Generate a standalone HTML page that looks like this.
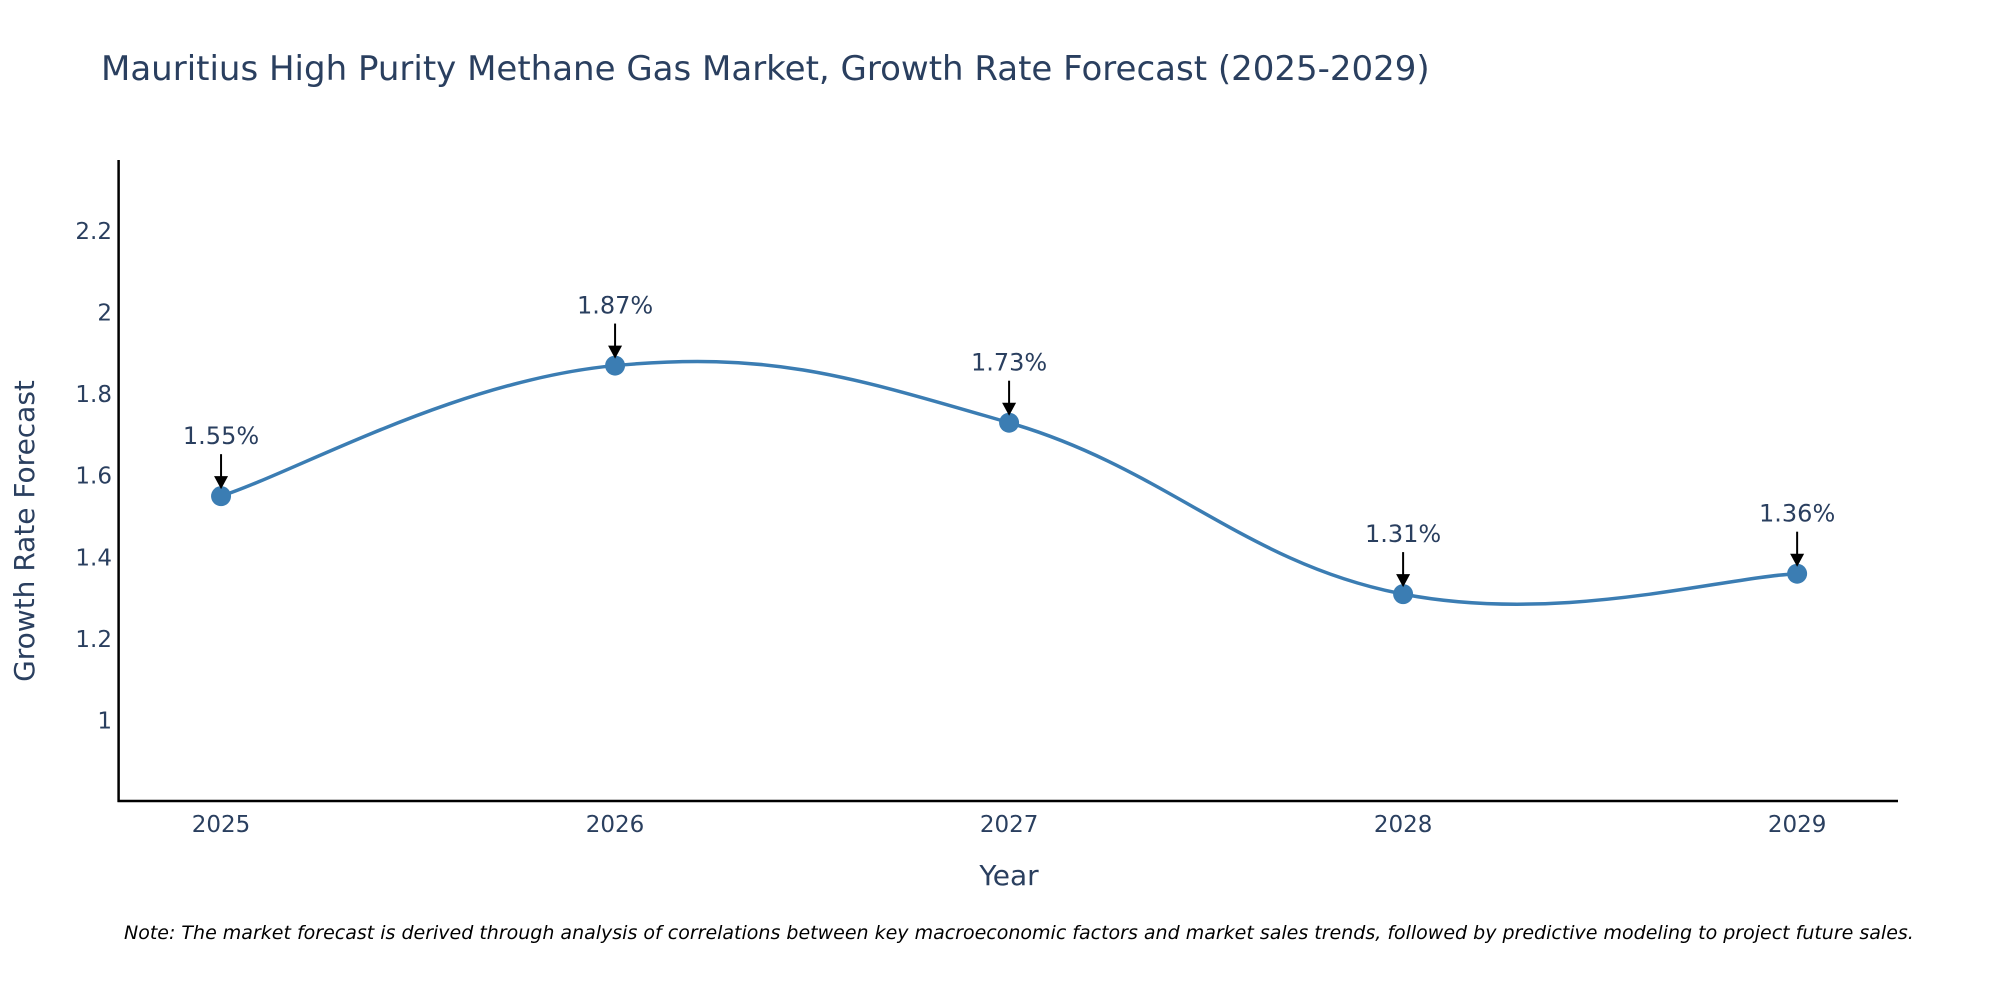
<!DOCTYPE html>
<html><head><meta charset="utf-8">
<style>
html,body{margin:0;padding:0;background:#fff;}
svg{display:block;font-family:"DejaVu Sans","Liberation Sans",sans-serif;}
</style></head>
<body>
<svg id="chart" width="2000" height="1000" viewBox="0 0 2000 1000" xmlns="http://www.w3.org/2000/svg">
<rect width="2000" height="1000" fill="#fff"/>
<text x="101" y="80" font-size="34" fill="#2a3f5f">Mauritius High Purity Methane Gas Market, Growth Rate Forecast (2025-2029)</text>
<g id="yticks"></g>
<g id="xticks"></g>
<line x1="118.6" y1="160" x2="118.6" y2="802" stroke="#000" stroke-width="2.5"/>
<line x1="117.5" y1="801" x2="1898" y2="801" stroke="#000" stroke-width="2.5"/>
<text transform="translate(34,531) rotate(-90)" text-anchor="middle" font-size="28" fill="#2a3f5f">Growth Rate Forecast</text>
<text x="1009" y="885" text-anchor="middle" font-size="28" fill="#2a3f5f">Year</text>
<g id="series"></g>
<g id="annots"></g>
<text x="124" y="939" font-size="19" font-style="italic" fill="#000">Note: The market forecast is derived through analysis of correlations between key macroeconomic factors and market sales trends, followed by predictive modeling to project future sales.</text>
</svg>
<script>
const years = [2025, 2026, 2027, 2028, 2029];
const growth = [1.55, 1.87, 1.73, 1.31, 1.36];
const labels = ["1.55%", "1.87%", "1.73%", "1.31%", "1.36%"];
const yTickValues = [1, 1.2, 1.4, 1.6, 1.8, 2, 2.2];
const yTickLabels = ["1", "1.2", "1.4", "1.6", "1.8", "2", "2.2"];

const NS = "http://www.w3.org/2000/svg";
const X0 = 118.6, X1 = 1898, Y0 = 801, Y1 = 160.7;
const xMin = 2024.74, xMax = 2029.256, yMin = 0.803, yMax = 2.372;
function xs(v){ return X0 + (v - xMin) / (xMax - xMin) * (X1 - X0); }
function ys(v){ return Y0 - (v - yMin) / (yMax - yMin) * (Y0 - Y1); }
function mk(tag, attrs, parent){ const e = document.createElementNS(NS, tag); for (const k in attrs) e.setAttribute(k, attrs[k]); parent.appendChild(e); return e; }

const yt = document.getElementById('yticks');
yTickValues.forEach((v, i) => {
  const t = mk('text', {x: 112, y: ys(v) + 8, 'text-anchor': 'end', 'font-size': 23, fill: '#2a3f5f'}, yt);
  
  
  t.textContent = yTickLabels[i];
});
const xt = document.getElementById('xticks');
years.forEach(y => {
  const t = mk('text', {x: xs(y), y: 832, 'text-anchor': 'middle', 'font-size': 23, fill: '#2a3f5f'}, xt);
  
  
  t.textContent = String(y);
});

const pts = years.map((y, i) => [xs(y), ys(growth[i])]);
let d = `M${pts[0][0]},${pts[0][1]}`;
const s = 0.2;
for (let i = 0; i < pts.length - 1; i++) {
  const p0 = pts[Math.max(i - 1, 0)], p1 = pts[i], p2 = pts[i + 1], p3 = pts[Math.min(i + 2, pts.length - 1)];
  const c1 = [p1[0] + (p2[0] - p0[0]) * s, p1[1] + (p2[1] - p0[1]) * s];
  const c2 = [p2[0] - (p3[0] - p1[0]) * s, p2[1] - (p3[1] - p1[1]) * s];
  d += ` C${c1[0]},${c1[1]} ${c2[0]},${c2[1]} ${p2[0]},${p2[1]}`;
}
const ser = document.getElementById('series');
const line = mk('path', {d: d, fill: 'none', stroke: '#3b7db3', 'stroke-width': 3.5}, ser);


pts.forEach(p => {
  const c = mk('circle', {cx: p[0], cy: p[1], r: 10, fill: '#3b7db3'}, ser);
  
  
});

const an = document.getElementById('annots');
pts.forEach((p, i) => {
  const l = mk('line', {x1: p[0], y1: p[1] - 42, x2: p[0], y2: p[1] - 17, stroke: '#000', 'stroke-width': 2}, an);
  
  
  const h = mk('path', {d: `M${p[0]-7},${p[1]-20} L${p[0]+7},${p[1]-20} L${p[0]},${p[1]-7} Z`, fill: '#000'}, an);
  
  
  const t = mk('text', {x: p[0], y: p[1] - 52, 'text-anchor': 'middle', 'font-size': 24, fill: '#2a3f5f'}, an);
  
  
  t.textContent = labels[i];
});
</script>
</body></html>
